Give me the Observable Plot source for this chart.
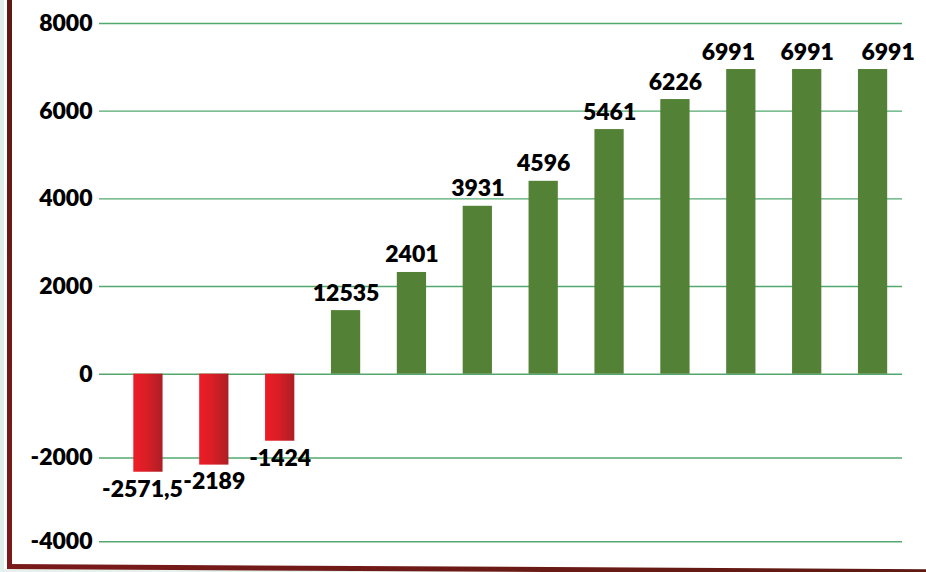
<!DOCTYPE html>
<html>
<head>
<meta charset="utf-8">
<script src="https://cdn.jsdelivr.net/npm/d3@7"></script>
<script src="https://cdn.jsdelivr.net/npm/@observablehq/plot@0.6"></script>
<style>
  html, body { margin: 0; padding: 0; background: #fff; width: 926px; height: 572px; overflow: hidden; }
  #wrap { position: relative; width: 926px; height: 572px; overflow: hidden; }
  #strip { position: absolute; left: 0; top: 0; width: 3.5px; height: 572px; background: #dfeee8; }
  #strip2 { position: absolute; left: 0; top: 568.5px; width: 926px; height: 4px; background: #e6f0ec; }
  #leftBorder { position: absolute; left: 7.3px; top: 0; width: 4.4px; height: 568.5px; background: linear-gradient(#5c1a12, #7c1a1a); }
  #bottomBorder { position: absolute; left: 7.3px; top: 564px; width: 940px; height: 4.6px; background: linear-gradient(90deg, #7a1a1a, #5e1a12); transform: rotate(0.32deg); transform-origin: 0 0; }
  #chart { position: absolute; left: 0; top: 0; }
</style>
</head>
<body>
<div id="wrap">
  <div id="strip"></div>
  <div id="strip2"></div>
  <div id="leftBorder"></div>
  <div id="bottomBorder"></div>
  <div id="chart"></div>
</div>
<script>
const categories = ["1","2","3","4","5","6","7","8","9","10","11","12"];
const barValues = [-2340, -2170, -1600, 1450, 2320, 3830, 4400, 5580, 6265, 6950, 6950, 6950];
const valueLabels = ["-2571,5","-2189","-1424","12535","2401","3931","4596","5461","6226","6991","6991","6991"];
const yTicks = [-4000, -2000, 0, 2000, 4000, 6000, 8000];

const data = categories.map((c, i) => ({cat: c, value: barValues[i], label: valueLabels[i], i}));
const neg = data.filter(d => d.value < 0);
const pos = data.filter(d => d.value >= 0);

const green = "#538135";
const grid = "#52a86e";
const font = "Lato, 'Open Sans', sans-serif";
const weight = 800;
// the negative half of the axis is drawn slightly compressed in the reference
const negScale = 0.956;

const textOpts = {x: "cat", y: "value", text: "label", fontSize: 23, fontWeight: weight, fill: "#000"};
const posText = (arr, dx) => Plot.text(arr, {...textOpts, lineAnchor: "bottom", dy: -10, dx});
const negText = (arr, dx) => Plot.text(arr, {...textOpts, lineAnchor: "top", dy: 8, dx});

const chart = Plot.plot({
  width: 926,
  height: 572,
  marginLeft: 115,
  marginRight: 20.5,
  marginTop: 23,
  marginBottom: 30.7,
  style: {fontFamily: font, fontWeight: weight, fontSize: "23px", background: "transparent", color: "#000", overflow: "visible"},
  x: {type: "band", domain: categories, paddingInner: 0.556, paddingOuter: 0.278, round: false, axis: null},
  y: {transform: v => v < 0 ? v * negScale : v, domain: [-4000 * negScale, 8000], axis: null},
  marks: [
    Plot.ruleY(yTicks, {stroke: grid, strokeWidth: 1.4, insetLeft: -16, insetRight: 3.5}),
    Plot.barY(pos, {x: "cat", y: "value", fill: green}),
    Plot.barY(neg, {x: "cat", y: "value", fill: "url(#redGrad)"}),
    Plot.axisY(yTicks, {tickSize: 0, tickPadding: 23, label: null, tickFormat: d => String(d), fontSize: 23, fontWeight: weight, fill: "#000"}),
    posText(pos.filter(d => d.i !== 9 && d.i !== 11), 0),
    posText(pos.filter(d => d.i === 9), -13),
    posText(pos.filter(d => d.i === 11), 15),
    negText(neg.filter(d => d.i !== 0), 0),
    negText(neg.filter(d => d.i === 0), -6)
  ]
});

// gradient for the red bars
const ns = "http://www.w3.org/2000/svg";
const defs = document.createElementNS(ns, "defs");
const lg = document.createElementNS(ns, "linearGradient");
lg.setAttribute("id", "redGrad");
lg.setAttribute("x1", "0"); lg.setAttribute("x2", "1"); lg.setAttribute("y1", "0"); lg.setAttribute("y2", "0");
[["0%", "#ee1c26"], ["45%", "#d91e26"], ["100%", "#ad1e24"]].forEach(([o, c]) => {
  const s = document.createElementNS(ns, "stop");
  s.setAttribute("offset", o); s.setAttribute("stop-color", c);
  lg.appendChild(s);
});
defs.appendChild(lg);
chart.insertBefore(defs, chart.firstChild);

document.getElementById("chart").appendChild(chart);
</script>
</body>
</html>
